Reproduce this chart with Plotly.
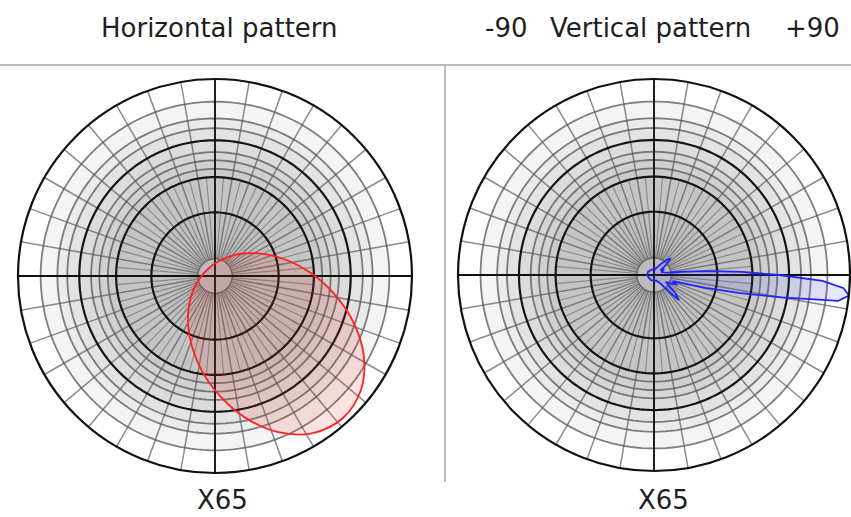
import plotly.graph_objects as go

# ---------------- data (compass degrees, relative field strength 0..1) -------------
h_theta = [-42, -32, -22, -12, -2, 8, 18, 28, 38, 48, 58, 68, 78, 88, 98, 108, 118, 128,
           138, 148, 158, 168, 178, 188, 198, 208, 218, 228, 238, 248, 258, 268, 278, 288,
           298, 308, 318]
h_r = [0.050, 0.051, 0.053, 0.057, 0.062, 0.070, 0.082, 0.100, 0.128, 0.167, 0.220, 0.290,
       0.378, 0.485, 0.605, 0.735, 0.855, 0.940,
       0.970, 0.940, 0.855, 0.735, 0.605, 0.485, 0.378, 0.290, 0.220, 0.167, 0.128, 0.100,
       0.082, 0.070, 0.062, 0.057, 0.053, 0.051, 0.050]

v_theta = [0, 10, 20, 30, 40, 45, 50, 55, 60, 65, 70, 75, 80, 82, 84, 86, 88, 90, 92, 94,
           96, 98, 100, 102, 104, 106, 108, 110, 113, 116, 120, 125, 130, 135, 138, 142,
           150, 160, 170, 180, 210, 240, 270, 300, 330, 360]
v_r = [0.03, 0.03, 0.04, 0.06, 0.10, 0.12, 0.08, 0.04, 0.06, 0.05, 0.04, 0.05, 0.07, 0.10,
       0.16, 0.28, 0.45, 0.64, 0.86, 0.97, 1.00, 0.95, 0.66, 0.44, 0.27, 0.16, 0.11, 0.10,
       0.13, 0.10, 0.07, 0.09, 0.14, 0.18, 0.12, 0.06, 0.04, 0.03, 0.03, 0.03, 0.03, 0.03,
       0.035, 0.035, 0.03, 0.03]

# grid rings (relative field)
ring_gray = [0.885, 0.80, 0.75, 0.629, 0.587, 0.544]
ring_black = [0.689, 0.502, 0.323]
ring_center = [0.087]
band_r = [1.0, 0.885, 0.80, 0.75, 0.689, 0.629, 0.587, 0.544, 0.502, 0.323, 0.087]
band_c = ['#ffffff', '#f4f4f4', '#ebebeb', '#e3e3e3', '#dcdcdc', '#d6d6d6',
          '#d1d1d1', '#cbcbcb', '#c5c5c5', '#c0c0c0', '#bcbcbc']

title_left = "Horizontal pattern"
title_right = "Vertical pattern"
lab_minus = "-90"
lab_plus = "+90"
bottom_label = "X65"

# ---------------- figure -------------------------------------------------------------
fig = go.Figure()
CIRC = list(range(0, 361, 2))
FONT = "DejaVu Sans, Verdana, sans-serif"


def add_grid(sub):
    for rr, cc in zip(band_r, band_c):
        fig.add_trace(go.Scatterpolar(r=[rr] * len(CIRC), theta=CIRC, mode='lines',
                                      fill='toself', fillcolor=cc, line=dict(width=0, color=cc),
                                      hoverinfo='skip', subplot=sub))
    # spokes
    sr, st = [], []
    for a in range(0, 360, 10):
        sr += [ring_center[0], 1.0, None]
        st += [a, a, None]
    fig.add_trace(go.Scatterpolar(r=sr, theta=st, mode='lines',
                                  line=dict(color='rgba(90,90,90,0.7)', width=1.5),
                                  hoverinfo='skip', subplot=sub))
    sr, st = [], []
    for a in range(5, 360, 10):
        sr += [ring_center[0], ring_black[1], None]
        st += [a, a, None]
    fig.add_trace(go.Scatterpolar(r=sr, theta=st, mode='lines',
                                  line=dict(color='rgba(90,90,90,0.55)', width=1.1),
                                  hoverinfo='skip', subplot=sub))
    for rr in ring_gray:
        fig.add_trace(go.Scatterpolar(r=[rr] * len(CIRC), theta=CIRC, mode='lines',
                                      line=dict(color='rgba(85,85,85,0.75)', width=1.8),
                                      hoverinfo='skip', subplot=sub))
    for rr in ring_center:
        fig.add_trace(go.Scatterpolar(r=[rr] * len(CIRC), theta=CIRC, mode='lines',
                                      line=dict(color='rgba(80,80,80,0.7)', width=1.4),
                                      hoverinfo='skip', subplot=sub))
    for rr in ring_black:
        fig.add_trace(go.Scatterpolar(r=[rr] * len(CIRC), theta=CIRC, mode='lines',
                                      line=dict(color='#151515', width=2.2),
                                      hoverinfo='skip', subplot=sub))
    fig.add_trace(go.Scatterpolar(r=[1, 0, 1, None, 1, 0, 1], theta=[0, 0, 180, None, 90, 90, 270],
                                  mode='lines', line=dict(color='#101010', width=1.8),
                                  hoverinfo='skip', subplot=sub))


add_grid('polar')
add_grid('polar2')

fig.add_trace(go.Scatterpolar(r=h_r, theta=h_theta, mode='lines', fill='toself',
                              fillcolor='rgba(255,40,40,0.13)',
                              line=dict(color='#ff2222', width=1.8, shape='spline'),
                              subplot='polar'))
fig.add_trace(go.Scatterpolar(r=v_r, theta=v_theta, mode='lines', fill='toself',
                              fillcolor='rgba(70,70,255,0.13)',
                              line=dict(color='#2424ff', width=1.8),
                              subplot='polar2'))

W, H = 851, 517


def px(x):
    return x / W


def py(y):
    return (H - y) / H


def polar_ax(cx, cy, R):
    return dict(domain=dict(x=[px(cx - R), px(cx + R)], y=[py(cy + R), py(cy - R)]),
                bgcolor='rgba(0,0,0,0)',
                radialaxis=dict(range=[0, 1], visible=False),
                angularaxis=dict(rotation=90, direction='clockwise', showgrid=False,
                                 showticklabels=False, ticks='', showline=True,
                                 linecolor='#111111', linewidth=2.2))


def label(text, x, y):
    return dict(text=text, x=px(x), y=py(y), xref='paper', yref='paper',
                xanchor='center', yanchor='middle', showarrow=False,
                font=dict(family=FONT, size=26, color='#1e1e1e'))


fig.update_layout(
    width=W, height=H, margin=dict(l=0, r=0, t=0, b=0),
    paper_bgcolor='white', plot_bgcolor='white', showlegend=False,
    polar=polar_ax(215, 276, 197),
    polar2=polar_ax(654, 275, 196),
    shapes=[
        dict(type='line', xref='paper', yref='paper', x0=0, x1=1, y0=py(65), y1=py(65),
             line=dict(color='#bcbcbc', width=2)),
        dict(type='line', xref='paper', yref='paper', x0=px(445), x1=px(445), y0=py(65),
             y1=py(482), line=dict(color='#bcbcbc', width=2)),
    ],
    annotations=[
        label(title_left, 220, 28),
        label(title_right, 650, 28),
        label(lab_minus, 506, 28),
        label(lab_plus, 812, 28),
        label(bottom_label, 222, 500),
        label(bottom_label, 663, 500),
    ],
)

fig.write_html("out.html", config={'displayModeBar': False},
               post_script="document.body.style.margin='0px';")
